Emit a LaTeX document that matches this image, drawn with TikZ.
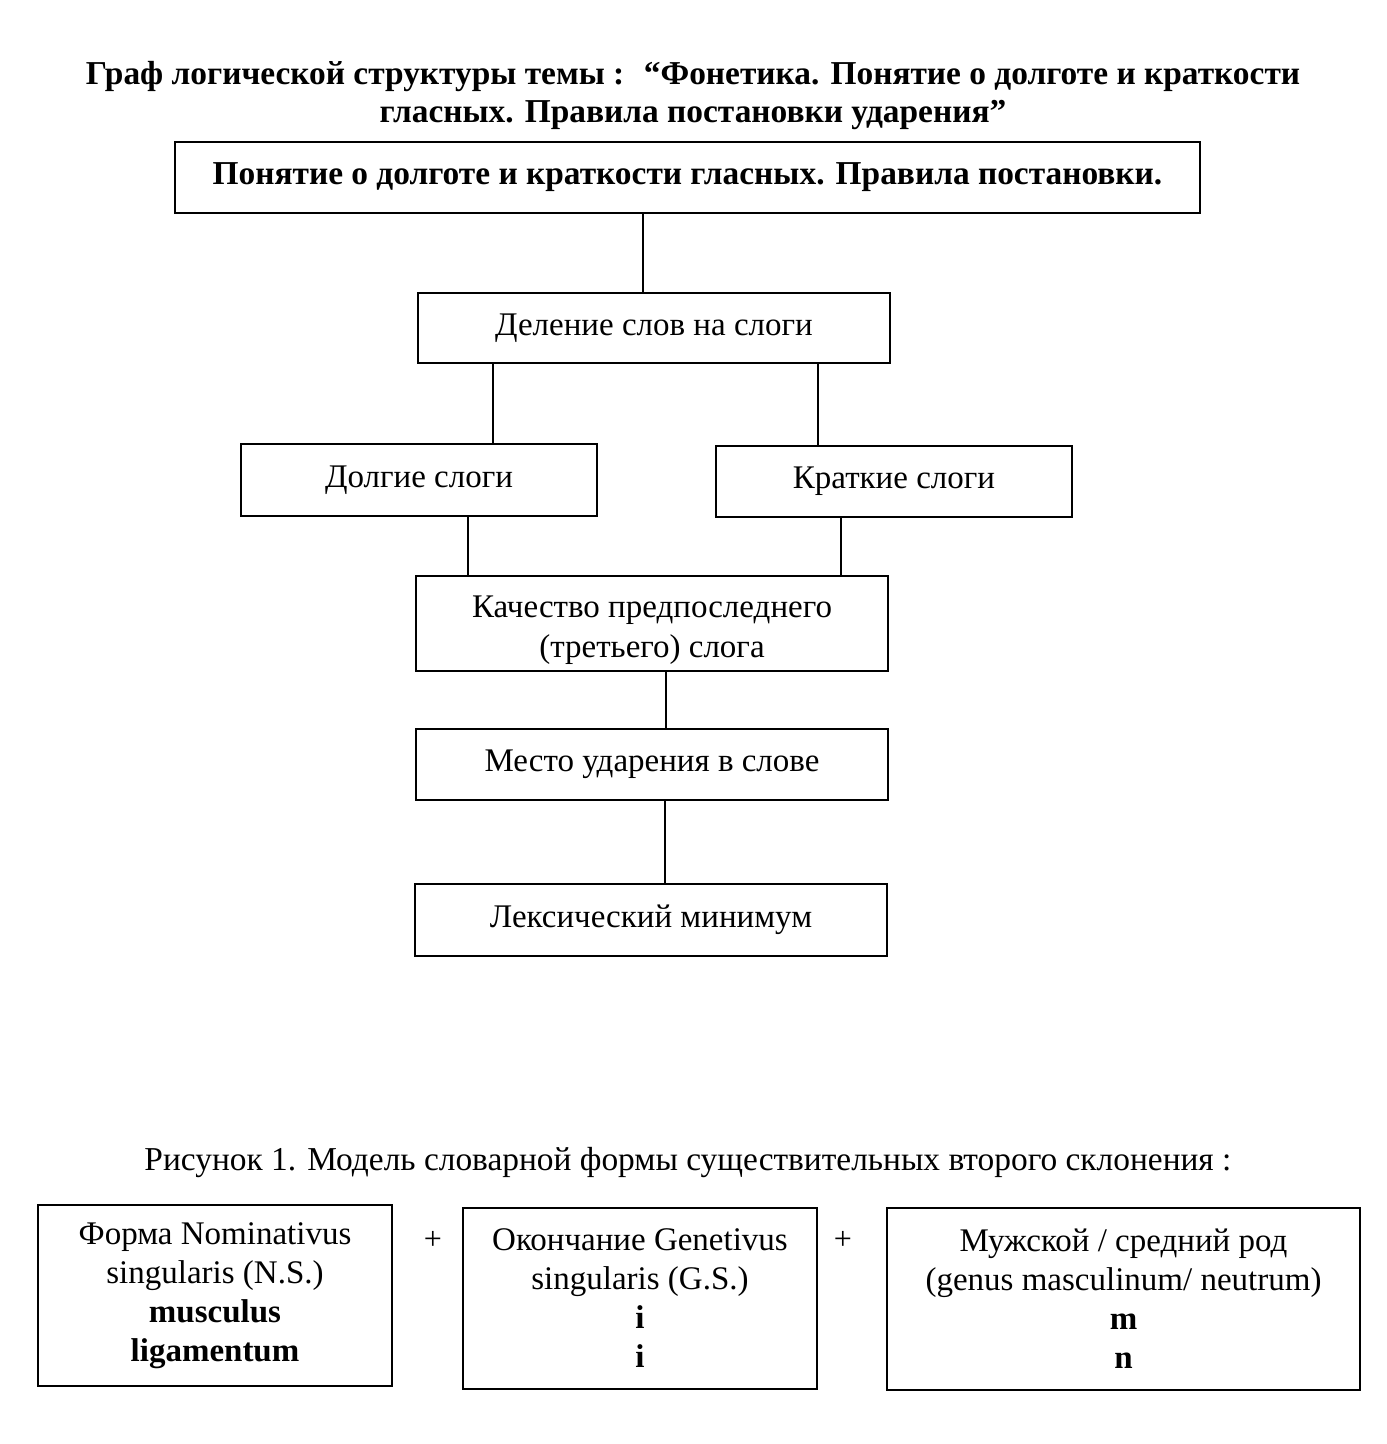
\documentclass[tikz,border=0pt]{standalone}
\usepackage{fontspec}
\setmainfont{Liberation Serif}

\begin{document}
\begin{tikzpicture}
	[x=0.5pt,y=-0.5pt,
	 box/.style={draw, line width=1pt, inner sep=0pt, outer sep=0pt, align=center, font=\fontsize{16.5}{20}\selectfont},
	 wordbox/.style={box, font=\fontsize{16.5}{19.5}\selectfont},
	 link/.style={line width=0.8pt}]
	\useasboundingbox (0,0) rectangle (1386,1444);
	
	\node[align=center, font=\fontsize{16.7}{19}\selectfont\bfseries] (title) at (693,96)
		{Граф логической структуры темы :~ “Фонетика. Понятие о долготе и краткости\\ гласных. Правила постановки ударения”};
	
	\node[box, minimum width=512.5pt, minimum height=35.5pt, font=\fontsize{16.7}{20}\selectfont\bfseries] (b1) at (687.5,177.5)
		{Понятие о долготе и краткости гласных. Правила постановки.};
	\node[box, minimum width=236pt, minimum height=35pt] (b2) at (654,328) {Деление слов на слоги};
	\node[box, minimum width=178pt, minimum height=36pt] (b3) at (419,480) {Долгие слоги};
	\node[box, minimum width=178pt, minimum height=35.5pt] (b4) at (894,481.5) {Краткие слоги};
	\node[box, minimum width=236pt, minimum height=47.5pt] (b5) at (652,623.5)
		{\raisebox{-3pt}[\height][\depth]{\begin{tabular}{@{}c@{}}Качество предпоследнего\\ (третьего) слога\end{tabular}}};
	\node[box, minimum width=236pt, minimum height=35.5pt] (b6) at (652,764.5) {Место ударения в слове};
	\node[box, minimum width=236pt, minimum height=36pt] (b7) at (651,920) {Лексический минимум};
	
	\foreach \from/\to/\x in {b1/b2/643,b2/b3/493,b2/b4/818,b3/b5/468,b4/b5/841,b5/b6/666,b6/b7/665}
	\draw[link] (\from.south -| \x,0) -- (\to.north -| \x,0);
	
	\node[font=\fontsize{16.7}{20}\selectfont] (caption) at (688,1163)
		{Рисунок 1. Модель словарной формы существительных второго склонения :};
	
	\node[wordbox, minimum width=177pt, minimum height=90.5pt] (f1) at (215,1295.5)
		{Форма Nominativus\\ singularis (N.S.)\\ \textbf{musculus}\\ \textbf{ligamentum}};
	\node[wordbox, minimum width=177pt, minimum height=90.5pt] (f2) at (640,1298.5)
		{Окончание Genetivus\\ singularis (G.S.)\\ \textbf{i}\\ \textbf{i}};
	\node[wordbox, minimum width=236.5pt, minimum height=91pt] (f3) at (1123.5,1299)
		{Мужской / средний род\\ (genus masculinum/ neutrum)\\ \textbf{m}\\ \textbf{n}};
	
	\node[font=\fontsize{16}{18}\selectfont] (plus1) at (433,1240) {+};
	\node[font=\fontsize{16}{18}\selectfont] (plus2) at (843,1240) {+};
\end{tikzpicture}
\end{document}
